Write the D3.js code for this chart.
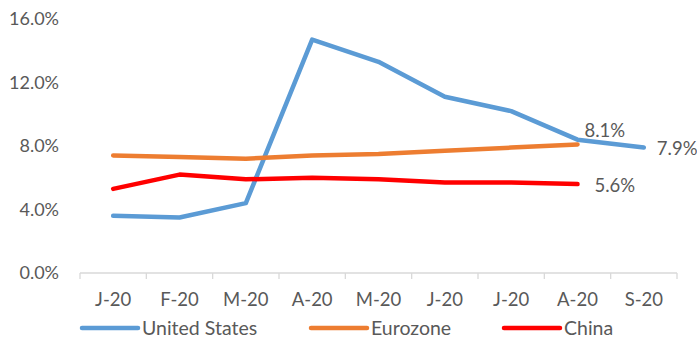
<!DOCTYPE html>
<html>
<head>
<meta charset="utf-8">
<script src="https://cdn.jsdelivr.net/npm/d3@7"></script>
<style>
  html, body { margin: 0; padding: 0; background: #fff; }
  svg { display: block; font-family: Lato, "Open Sans", sans-serif; }
</style>
</head>
<body>
<svg id="chart" width="697" height="341"></svg>
<script>
// Monthly unemployment rate, 2020 (%)
const months = ["J-20", "F-20", "M-20", "A-20", "M-20", "J-20", "J-20", "A-20", "S-20"];
const unitedStates = [3.6, 3.5, 4.4, 14.7, 13.3, 11.1, 10.2, 8.4, 7.9];
const eurozone = [7.4, 7.3, 7.2, 7.4, 7.5, 7.7, 7.9, 8.1];
const china = [5.3, 6.2, 5.9, 6.0, 5.9, 5.7, 5.7, 5.6];
const yTicks = [0, 4, 8, 12, 16];

const series = [
  { name: "United States", values: unitedStates, color: "#5B9BD5" },
  { name: "Eurozone", values: eurozone, color: "#ED7D31" },
  { name: "China", values: china, color: "#FF0000" }
];

const svg = d3.select("#chart");
const margin = { left: 80, right: 20, top: 19, bottom: 68 };
const width = 697, height = 341;
const textColor = "#595959";

const x = d3.scaleBand()
  .domain(d3.range(months.length))
  .range([margin.left, width - margin.right])
  .paddingInner(0).paddingOuter(0);

const y = d3.scaleLinear()
  .domain([0, 16])
  .range([height - margin.bottom, margin.top]);

const cx = i => x(i) + x.bandwidth() / 2;

// y axis labels (no axis line)
const yAxis = svg.append("g")
  .attr("transform", `translate(${margin.left - 21},0)`)
  .call(d3.axisLeft(y).tickValues(yTicks).tickFormat(d => d.toFixed(1) + "%").tickSize(0).tickPadding(0));
yAxis.select(".domain").remove();
yAxis.selectAll("text")
  .attr("fill", textColor)
  .style("font-size", "18px")
  .style("font-family", "Lato, sans-serif");

// x axis with tick marks at category boundaries
const baseY = y(0);
const xg = svg.append("g");
xg.append("line")
  .attr("x1", x.range()[0]).attr("x2", x.range()[1])
  .attr("y1", baseY).attr("y2", baseY)
  .attr("stroke", "#d9d9d9").attr("stroke-width", 1.3);
const edges = d3.range(months.length + 1).map(i => i < months.length ? x(i) : x.range()[1]);
xg.selectAll("line.tick")
  .data(edges)
  .join("line")
  .attr("class", "tick")
  .attr("x1", d => d).attr("x2", d => d)
  .attr("y1", baseY).attr("y2", baseY + 6)
  .attr("stroke", "#d9d9d9").attr("stroke-width", 1.3);
xg.selectAll("text")
  .data(months)
  .join("text")
  .attr("x", (d, i) => cx(i))
  .attr("y", 300)
  .attr("dy", "0.35em")
  .attr("text-anchor", "middle")
  .attr("fill", textColor)
  .style("font-size", "18.5px")
  .text(d => d);

// lines
const line = d3.line()
  .x((d, i) => cx(i))
  .y(d => y(d));

svg.selectAll("path.series")
  .data(series)
  .join("path")
  .attr("class", "series")
  .attr("d", d => line(d.values))
  .attr("fill", "none")
  .attr("stroke", d => d.color)
  .attr("stroke-width", 4.5)
  .attr("stroke-linecap", "round")
  .attr("stroke-linejoin", "round");

// end labels
const lastLabel = (vals, dx, dy) => {
  const i = vals.length - 1;
  return { x: cx(i) + dx, y: y(vals[i]) + dy, text: vals[i].toFixed(1) + "%" };
};
const labels = [
  lastLabel(eurozone, 7, -14),
  lastLabel(unitedStates, 13, 1),
  lastLabel(china, 17, 1)
];
svg.selectAll("text.endlabel")
  .data(labels)
  .join("text")
  .attr("class", "endlabel")
  .attr("x", d => d.x)
  .attr("y", d => d.y)
  .attr("dy", "0.35em")
  .attr("fill", textColor)
  .style("font-size", "18.5px")
  .text(d => d.text);

// legend
const legendItems = [
  { x: 82, s: series[0] },
  { x: 311, s: series[1] },
  { x: 504, s: series[2] }
];
const lg = svg.selectAll("g.legend")
  .data(legendItems)
  .join("g")
  .attr("class", "legend")
  .attr("transform", d => `translate(${d.x},328)`);
lg.append("line")
  .attr("x1", 0).attr("x2", 56)
  .attr("y1", 0).attr("y2", 0)
  .attr("stroke", d => d.s.color)
  .attr("stroke-width", 4.5)
  .attr("stroke-linecap", "round");
lg.append("text")
  .attr("x", 60)
  .attr("dy", "0.35em")
  .attr("fill", textColor)
  .style("font-size", "19.5px")
  .text(d => d.s.name);
</script>
</body>
</html>
